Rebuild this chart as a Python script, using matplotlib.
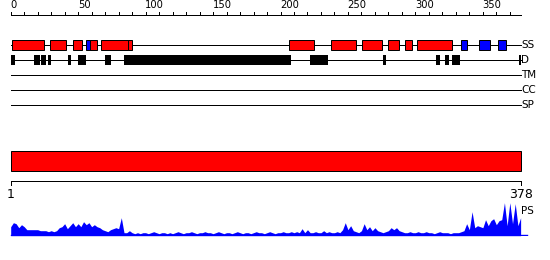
import numpy as np
import matplotlib
matplotlib.use('Agg')
import matplotlib.pyplot as plt
from matplotlib.patches import Rectangle

# ---- data ----
SEQ_LEN = 378
RULER_TICKS = list(range(0, 371, 10))
RULER_LABELS = list(range(0, 351, 50))

# secondary structure (SS): helices red, strands blue  (start, end residue)
HELIX = [(1, 24.5), (29, 41), (46, 52.5), (59, 64), (67, 87), (87, 90),
         (206.5, 225), (237.5, 256), (260.5, 275), (279.5, 287.5),
         (292.5, 297.5), (301, 327)]
STRAND = [(56, 59), (333.5, 338.5), (347, 355.5), (361, 367.5)]

# disorder (D) segments
DISORDER = [(0, 3), (17, 21.8), (22.6, 26), (28, 30), (42.5, 44.5), (50, 56),
            (70, 74), (84, 207.5), (222, 235), (276, 278), (315, 318),
            (322, 325), (327, 333), (377, 378)]

TRACKS = ['SS', 'D', 'TM', 'CC', 'SP']

# PS profile, one value every 2 residues (0..378)
PS_VALUES = [
    9, 13, 12, 8, 11, 9, 6, 6, 6, 6,
    6, 5, 5, 5, 4, 5, 4, 5, 8, 9,
    12, 7, 10, 13, 9, 12, 9, 14, 11, 13,
    9, 11, 9, 8, 6, 5, 4, 6, 7, 8,
    7, 18, 3, 3, 5, 3, 2, 3, 2, 3,
    3, 2, 3, 4, 3, 2, 3, 3, 2, 3,
    2, 3, 4, 3, 2, 3, 3, 4, 3, 2,
    3, 3, 4, 3, 3, 2, 3, 4, 3, 2,
    3, 3, 2, 3, 4, 3, 2, 3, 3, 2,
    3, 4, 3, 3, 2, 3, 4, 3, 2, 3,
    3, 4, 3, 3, 4, 3, 4, 3, 7, 3,
    6, 3, 3, 4, 3, 3, 5, 3, 4, 3,
    3, 4, 3, 6, 13, 6, 10, 5, 4, 3,
    5, 12, 6, 9, 5, 8, 5, 4, 3, 4,
    5, 8, 6, 8, 5, 4, 3, 3, 4, 3,
    3, 4, 3, 3, 4, 3, 3, 2, 3, 4,
    3, 3, 3, 2, 3, 3, 3, 4, 5, 12,
    6, 24, 8, 10, 9, 8, 16, 10, 15, 17,
    11, 15, 16, 33, 10, 33, 12, 32, 10, 18,
]
PS_RES = np.arange(0, SEQ_LEN + 1, 2)

# ---- layout (pixel rows) ----
W, H = 550, 260
PX = 1.349            # pixels per residue
X_LEFT = 10.7
xlim = (-X_LEFT / PX, (W - X_LEFT) / PX)
LW = 0.72
FONT = 'DejaVu Sans'

fig = plt.figure(figsize=(W / 100, H / 100), dpi=100)
ax = fig.add_axes([0, 0, 1, 1])
ax.set_xlim(*xlim)
ax.set_ylim(H, 0)
ax.axis('off')

# top ruler
RULER_Y = 14.7
ax.plot([0, SEQ_LEN], [RULER_Y, RULER_Y], color='black', lw=LW)
for t in RULER_TICKS:
    ax.plot([t, t], [RULER_Y - 3, RULER_Y], color='black', lw=LW)
for t in RULER_LABELS:
    ax.text(t - 0.3, 0.5, str(t), ha='left', va='top', fontsize=7.2,
            family=FONT, color='black')

# tracks
TRACK_Y = {'SS': 45, 'D': 60, 'TM': 75, 'CC': 90, 'SP': 105}
for name in TRACKS:
    yy = TRACK_Y[name]
    ax.plot([0, SEQ_LEN], [yy, yy], color='black', lw=LW, zorder=1)
    ax.text(SEQ_LEN + 0.3, yy, name, ha='left', va='center', fontsize=7.5,
            family=FONT, color='black')

for s, e in HELIX:
    ax.add_patch(Rectangle((s, TRACK_Y['SS'] - 4.8), e - s, 9.6,
                           facecolor='#ff0000', edgecolor='black', lw=LW, zorder=3))
for s, e in STRAND:
    ax.add_patch(Rectangle((s, TRACK_Y['SS'] - 4.8), e - s, 9.6,
                           facecolor='#0000ff', edgecolor='black', lw=LW, zorder=3))
for s, e in DISORDER:
    ax.add_patch(Rectangle((s, TRACK_Y['D'] - 5.2), e - s, 10.4,
                           facecolor='black', edgecolor='none', zorder=3))

# full-length bar
ax.add_patch(Rectangle((0, 150.7), SEQ_LEN, 20, facecolor='#ff0000',
                       edgecolor='black', lw=LW, zorder=3))

# bottom ruler
BR_Y = 180.7
ax.plot([0, SEQ_LEN], [BR_Y, BR_Y], color='black', lw=LW)
for t in (0, SEQ_LEN):
    ax.plot([t, t], [BR_Y, BR_Y + 4.5], color='black', lw=LW)
ax.text(0, 188.5, '1', ha='center', va='top', fontsize=9, family=FONT)
ax.text(SEQ_LEN, 188.5, str(SEQ_LEN), ha='center', va='top', fontsize=9, family=FONT)
ax.text(SEQ_LEN + 0.5, 211, 'PS', ha='left', va='center', fontsize=7.5, family=FONT)

# PS profile
base = 235.7
pax = fig.add_axes([0, (H - base) / H, 1, 34 / H])
pax.set_xlim(*xlim)
pax.set_ylim(0, 34)
pax.axis('off')
pax.fill_between(PS_RES, 0, PS_VALUES, color='#0000ff', lw=0)
pax.plot([0, SEQ_LEN + 4.5], [0.4, 0.4], color='#0000ff', lw=1.0)

fig.savefig('out.png', dpi=100, facecolor='white')
